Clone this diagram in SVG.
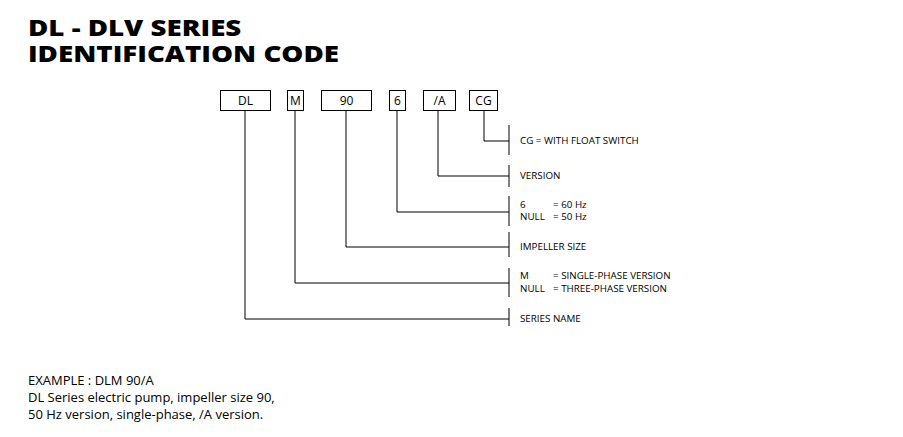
<svg xmlns="http://www.w3.org/2000/svg" width="903" height="437" viewBox="0 0 903 437">
<style>
.t{font-family:"Open Sans","DejaVu Sans",sans-serif;font-weight:800;font-size:22px;fill:#000}
.b{fill:#fff;stroke:#000;stroke-width:1}
.bt{font-family:"Open Sans","DejaVu Sans",sans-serif;font-size:12px;text-anchor:middle;fill:#000}
.l{font-family:"Open Sans","DejaVu Sans",sans-serif;font-size:9.8px;fill:#000}
.e{font-family:"Open Sans","DejaVu Sans",sans-serif;font-size:13px;fill:#000}
#conn path{fill:none;stroke:#000;stroke-width:1}
</style>
<rect width="903" height="437" fill="#fff"/>
<g transform="scale(1.26,1)">
<text class="t" x="22.2" y="36">DL - DLV SERIES</text>
<text class="t" x="22.2" y="62">IDENTIFICATION  CODE</text>
</g>
<g id="conn">
<path d="M245 110V319H509M295 110V283H509M346 110V247H509M397 110V212H509M438 110V176H509M484 110V141H509"/>
<path d="M509 125V155M509 165V187M509 196V226M509 232V257M509 268V297M509 308V326"/>
</g>
<g id="n-dl"><rect class="b" x="220.5" y="90.5" width="50" height="20"/><text class="bt" x="245.5" y="105">DL</text></g>
<g id="n-m"><rect class="b" x="287.5" y="90.5" width="16" height="20"/><text class="bt" x="295.5" y="105">M</text></g>
<g id="n-90"><rect class="b" x="321.5" y="90.5" width="50" height="20"/><text class="bt" x="346.5" y="105">90</text></g>
<g id="n-6"><rect class="b" x="389.5" y="90.5" width="16" height="20"/><text class="bt" x="397.5" y="105">6</text></g>
<g id="n-a"><rect class="b" x="423.5" y="90.5" width="32" height="20"/><text class="bt" x="439.5" y="105">/A</text></g>
<g id="n-cg"><rect class="b" x="469.5" y="90.5" width="28" height="20"/><text class="bt" x="483.5" y="105">CG</text></g>
<g id="labels">
<text class="l" x="520" y="144">CG = WITH FLOAT SWITCH</text>
<text class="l" x="520" y="179">VERSION</text>
<text class="l" x="520" y="208">6</text><text class="l" x="553" y="208">= 60 Hz</text>
<text class="l" x="520" y="220">NULL</text><text class="l" x="553" y="220">= 50 Hz</text>
<text class="l" x="520" y="250">IMPELLER SIZE</text>
<text class="l" x="520" y="279">M</text><text class="l" x="553" y="279">= SINGLE-PHASE VERSION</text>
<text class="l" x="520" y="292">NULL</text><text class="l" x="553" y="292">= THREE-PHASE VERSION</text>
<text class="l" x="520" y="322">SERIES NAME</text>
</g>
<text class="e" x="28" y="385">EXAMPLE : DLM 90/A</text>
<text class="e" x="28" y="402">DL Series electric pump, impeller size 90,</text>
<text class="e" x="28" y="419">50 Hz version, single-phase, /A version.</text>
</svg>
